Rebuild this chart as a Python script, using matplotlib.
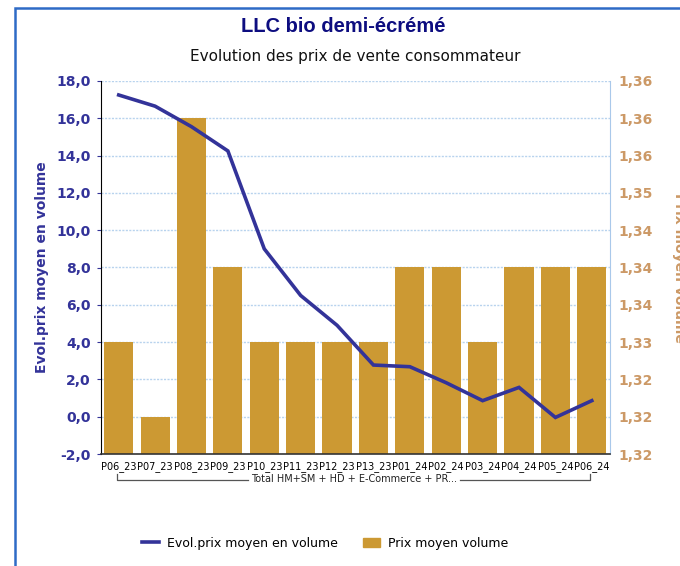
import matplotlib
matplotlib.use("Agg")
import matplotlib.pyplot as plt
import matplotlib.patches as mpatches
from matplotlib.lines import Line2D
import numpy as np

categories = ["P06_23", "P07_23", "P08_23", "P09_23", "P10_23", "P11_23", "P12_23",
              "P13_23", "P01_24", "P02_24", "P03_24", "P04_24", "P05_24", "P06_24"]
evol_prix = [17.25, 16.65, 15.55, 14.25, 9.0, 6.5, 4.9, 2.77, 2.68, 1.82, 0.86, 1.57, -0.04, 0.86]
prix_moyen = [1.33, 1.32, 1.36, 1.34, 1.33, 1.33, 1.33, 1.33, 1.34, 1.34, 1.33, 1.34, 1.34, 1.34]
left_ticks = [-2, 0, 2, 4, 6, 8, 10, 12, 14, 16, 18]
left_labels = ["-2,0", "0,0", "2,0", "4,0", "6,0", "8,0", "10,0", "12,0", "14,0", "16,0", "18,0"]
right_ticks = [1.315, 1.32, 1.325, 1.33, 1.335, 1.34, 1.345, 1.35, 1.355, 1.36, 1.365]
right_labels = ["1,32", "1,32", "1,32", "1,33", "1,34", "1,34", "1,34", "1,35", "1,36", "1,36", "1,36"]
group_label = "Total HM+SM + HD + E-Commerce + PR..."
title = "LLC bio demi-écrémé"
subtitle = "Evolution des prix de vente consommateur"

LINE_C = "#333399"
BAR_C = "#CC9933"
RIGHT_C = "#CC9966"
GRID_C = "#B8D3EE"

plt.rcParams['font.family'] = ['DejaVu Sans']

fig = plt.figure(figsize=(6.8, 5.66), dpi=100)
fig.patch.set_facecolor("white")

# outer frame
fig.patches.append(mpatches.Rectangle((15 / 680, -0.1), 1.0, 1 - 8 / 566 + 0.1,
                                      transform=fig.transFigure, fill=False,
                                      edgecolor="#2E6BC6", linewidth=1.8))

ax1 = fig.add_axes([100.5 / 680, 1 - 454 / 566, (610 - 100.5) / 680, (454 - 81) / 566])
ax2 = ax1.twinx()
ax1.set_zorder(ax2.get_zorder() + 1)
ax1.patch.set_visible(False)

x = np.arange(len(categories))

ax2.set_ylim(right_ticks[0], right_ticks[-1])
ax2.bar(x, np.array(prix_moyen) - right_ticks[0], bottom=right_ticks[0], width=0.8,
        color=BAR_C, zorder=2)
ax2.set_yticks(right_ticks)
ax2.set_yticklabels(right_labels)
ax2.set_axisbelow(True)
ax2.yaxis.grid(True, color=GRID_C, linestyle=(0, (1.5, 1)), linewidth=1.0)
ax2.tick_params(axis="y", colors=RIGHT_C, labelsize=10, length=0, pad=6)
for t in ax2.get_yticklabels():
    t.set_fontweight("bold")
ax2.set_ylabel("Prix moyen volume", color=RIGHT_C, fontsize=10, fontweight="bold",
               rotation=270, labelpad=24)

ax1.plot(x, evol_prix, color=LINE_C, linewidth=2.6, zorder=3, solid_joinstyle="miter")
ax1.set_ylim(left_ticks[0], left_ticks[-1])
ax1.set_xlim(-0.5, len(categories) - 0.5)
ax1.set_yticks(left_ticks)
ax1.set_yticklabels(left_labels)
ax1.tick_params(axis="y", colors=LINE_C, labelsize=10, length=3, pad=4)
for t in ax1.get_yticklabels():
    t.set_fontweight("bold")
ax1.set_xticks(x)
ax1.set_xticklabels(categories, fontsize=7)
ax1.tick_params(axis="x", length=0, pad=5)
ax1.set_ylabel("Evol.prix moyen en volume", color=LINE_C, fontsize=10, fontweight="bold",
               labelpad=5)

for ax in (ax1, ax2):
    ax.spines["top"].set_visible(False)
ax2.spines["left"].set_visible(False)
ax2.spines["bottom"].set_visible(False)
ax1.spines["right"].set_visible(False)
ax2.spines["right"].set_color("#A9C8EA")
ax1.spines["left"].set_color("black")
ax1.spines["bottom"].set_color("#333333")
ax1.spines["bottom"].set_linewidth(1.2)

# group bracket (two segments with a gap for the label)
y_line = 1 - 480 / 566
y_tick = 1 - 474 / 566
xl = 117 / 680
xr = 590 / 680
gap_l = 248 / 680
gap_r = 460 / 680
fig.add_artist(Line2D([xl, xl, gap_l], [y_tick, y_line, y_line],
                      transform=fig.transFigure, color="#555555", linewidth=0.9))
fig.add_artist(Line2D([gap_r, xr, xr], [y_line, y_line, y_tick],
                      transform=fig.transFigure, color="#555555", linewidth=0.9))
fig.text(354 / 680, y_line + 0.001, group_label, ha="center", va="center", fontsize=7,
         color="#222222")

fig.text(343 / 680, 1 - 27 / 566, title, ha="center", va="center", fontsize=14.5,
         fontweight="bold", color="#0D0D80", family=["Liberation Sans", "DejaVu Sans"])
fig.text(355 / 680, 1 - 56 / 566, subtitle, ha="center", va="center", fontsize=11,
         color="#111111")

handles = [Line2D([0], [0], color=LINE_C, linewidth=2.6),
           mpatches.Patch(color=BAR_C)]
fig.legend(handles, ["Evol.prix moyen en volume", "Prix moyen volume"],
           loc="center", bbox_to_anchor=(325 / 680, 1 - 543 / 566), ncol=2,
           frameon=False, fontsize=9, handlelength=1.4, columnspacing=2.0,
           handletextpad=0.6)

fig.savefig("out.png", dpi=100)
